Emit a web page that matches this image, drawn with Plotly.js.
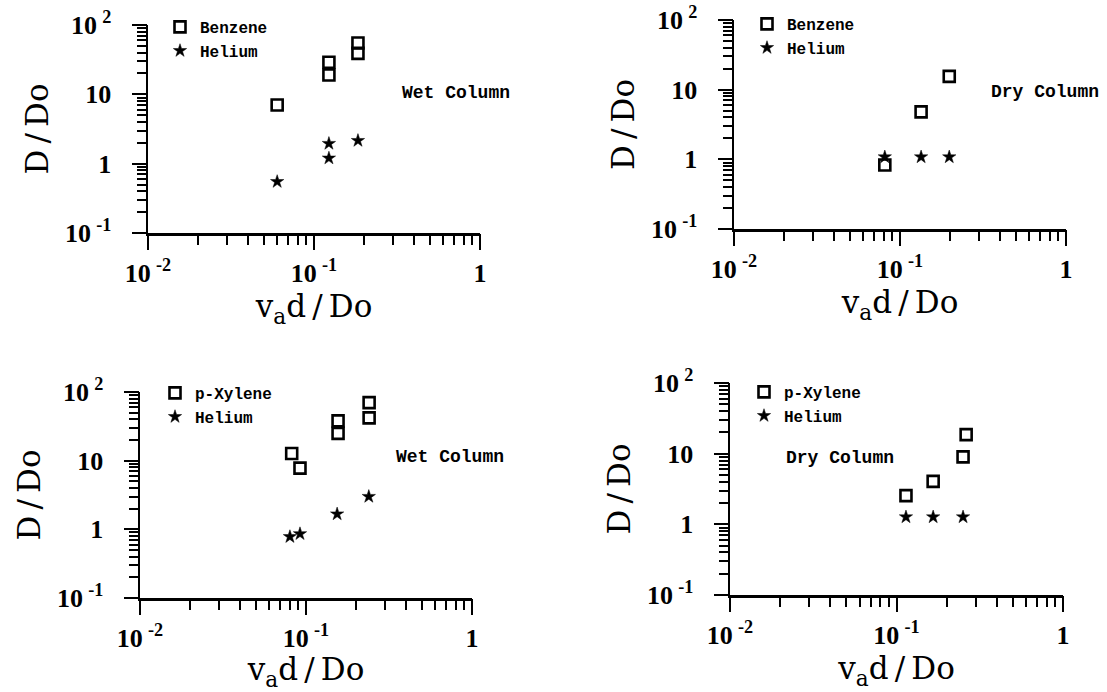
<!DOCTYPE html>
<html>
<head>
<meta charset="utf-8">
<script src="https://cdn.plot.ly/plotly-3.0.1.min.js"></script>
<style>
  html, body { margin: 0; padding: 0; background: #fff; }
  #chart { width: 1107px; height: 692px; }
</style>
</head>
<body>
<div id="chart"></div>
<script>
// Dispersion ratio D/Do against reduced velocity v_a d/Do, four columns.

// Wet column, benzene tracer
const wetBenzeneX = [0.060, 0.123, 0.123, 0.184, 0.184];
const wetBenzeneY = [7.0, 29, 19, 55, 39];
const wetHeliumAX = [0.060, 0.123, 0.123, 0.184];
const wetHeliumAY = [0.55, 1.95, 1.2, 2.15];

// Dry column, benzene tracer
const dryBenzeneX = [0.081, 0.134, 0.198];
const dryBenzeneY = [0.83, 4.8, 15.5];
const dryHeliumAX = [0.081, 0.134, 0.198];
const dryHeliumAY = [1.08, 1.08, 1.08];

// Wet column, p-xylene tracer
const wetXyleneX = [0.082, 0.092, 0.156, 0.156, 0.240, 0.240];
const wetXyleneY = [12.7, 7.8, 38, 25, 70, 42];
const wetHeliumBX = [0.080, 0.092, 0.154, 0.239];
const wetHeliumBY = [0.78, 0.86, 1.67, 3.0];

// Dry column, p-xylene tracer
const dryXyleneX = [0.114, 0.166, 0.251, 0.262];
const dryXyleneY = [2.55, 4.05, 9.0, 18.6];
const dryHeliumBX = [0.114, 0.166, 0.251];
const dryHeliumBY = [1.27, 1.27, 1.27];

// Axis ticks
const xTickVals = [0.01, 0.1, 1];
const xTickText = ['10\u2009<sup>-2</sup>', '10\u2009<sup>-1</sup>', '1'];
const yTickVals = [0.1, 1, 10, 100];
const yTickText = ['10\u2009<sup>-1</sup>', '1', '10', '10\u2009<sup>2</sup>'];

const columnLabels = ['Wet Column', 'Dry Column', 'Wet Column', 'Dry Column'];

const W = 1107, H = 692;
const px = v => v / W;
const py = v => 1 - v / H;

// 2..9 within each decade, for the short ticks
function minorTicks(lo, hi) {
  const out = [];
  for (let e = lo; e < hi; e++) {
    for (let k = 2; k <= 9; k++) out.push(k * Math.pow(10, e));
  }
  return out;
}

// every tick position on an axis, labelled only at the decades
function allTicks(majorVals, majorText, lo, hi) {
  const vals = majorVals.concat(minorTicks(lo, hi));
  const text = majorText.concat(minorTicks(lo, hi).map(() => ''));
  return { vals, text };
}

const tickFont = { family: 'Liberation Serif', size: 26, weight: 'bold', color: '#000' };
const titleFont = { family: 'DejaVu Serif', size: 31, color: '#000' };

function xAxis(left, right, anchor) {
  const t = allTicks(xTickVals, xTickText, -2, 0);
  return {
    type: 'log', range: [-2, 0], domain: [px(left), px(right)], anchor: anchor,
    showline: true, linewidth: 2.5, linecolor: '#000',
    ticks: 'outside', ticklen: 9, tickwidth: 2, tickcolor: '#000',
    tickmode: 'array', tickvals: t.vals, ticktext: t.text,
    tickfont: tickFont, ticklabelstandoff: 6,
    showgrid: false, zeroline: false, automargin: false,
    title: { text: 'v<sub>a</sub>d\u2009/\u2009Do', font: titleFont, standoff: 9 }
  };
}

function yAxis(top, bottom, anchor) {
  const t = allTicks(yTickVals, yTickText, -1, 2);
  return {
    type: 'log', range: [-1, 2], domain: [py(bottom), py(top)], anchor: anchor,
    showline: true, linewidth: 2.5, linecolor: '#000',
    ticks: 'outside', ticklen: 9, tickwidth: 2, tickcolor: '#000',
    tickmode: 'array', tickvals: t.vals, ticktext: t.text,
    tickfont: tickFont, ticklabelstandoff: 20,
    showgrid: false, zeroline: false, automargin: false,
    title: { text: 'D\u2009/\u2009Do', font: titleFont, standoff: 7 }
  };
}

// Overlaid axes carrying the longer decade ticks
function decadeX(base, anchor) {
  return {
    type: 'log', range: [-2, 0], anchor: anchor, overlaying: base, side: 'bottom',
    showline: false, ticks: 'outside', ticklen: 16, tickwidth: 2, tickcolor: '#000',
    tickmode: 'array', tickvals: xTickVals, showticklabels: false,
    showgrid: false, zeroline: false, automargin: false
  };
}
function decadeY(base, anchor) {
  return {
    type: 'log', range: [-1, 2], anchor: anchor, overlaying: base, side: 'left',
    showline: false, ticks: 'outside', ticklen: 15, tickwidth: 2, tickcolor: '#000',
    tickmode: 'array', tickvals: yTickVals, showticklabels: false,
    showgrid: false, zeroline: false, automargin: false
  };
}

const openSquare = { symbol: 'square-open', size: 11, color: '#000', line: { width: 2.6, color: '#000' } };
const star = { symbol: 'star', size: 10, color: '#000', line: { width: 0.5, color: '#000' } };

function pair(xa, ya, legend, nameA, ax, ay, bx, by) {
  return [
    { type: 'scatter', mode: 'markers', name: nameA, x: ax, y: ay,
      xaxis: xa, yaxis: ya, legend: legend, marker: openSquare, hoverinfo: 'x+y' },
    { type: 'scatter', mode: 'markers', name: 'Helium', x: bx, y: by,
      xaxis: xa, yaxis: ya, legend: legend, marker: star, hoverinfo: 'x+y' }
  ];
}

// transparent anchor trace so each decade-tick axis pair gets a subplot
function tickHolder(xa, ya, ys, xs) {
  return { type: 'scatter', mode: 'markers', x: xs, y: ys, xaxis: xa, yaxis: ya,
           marker: { opacity: 0, size: 1 }, showlegend: false, hoverinfo: 'skip' };
}

const data = [].concat(
  pair('x', 'y', 'legend', 'Benzene', wetBenzeneX, wetBenzeneY, wetHeliumAX, wetHeliumAY),
  pair('x2', 'y2', 'legend2', 'Benzene', dryBenzeneX, dryBenzeneY, dryHeliumAX, dryHeliumAY),
  pair('x3', 'y3', 'legend3', 'p-Xylene', wetXyleneX, wetXyleneY, wetHeliumBX, wetHeliumBY),
  pair('x4', 'y4', 'legend4', 'p-Xylene', dryXyleneX, dryXyleneY, dryHeliumBX, dryHeliumBY),
  [tickHolder('x5', 'y5', wetBenzeneY, wetBenzeneX),
   tickHolder('x6', 'y6', dryBenzeneY, dryBenzeneX),
   tickHolder('x7', 'y7', wetXyleneY, wetXyleneX),
   tickHolder('x8', 'y8', dryXyleneY, dryXyleneX)]
);

const legendFont = { family: 'Liberation Mono', size: 16, weight: 'bold', color: '#000' };
function legendAt(left, top) {
  return {
    x: px(left), y: py(top), xanchor: 'left', yanchor: 'top',
    bgcolor: 'rgba(0,0,0,0)', borderwidth: 0, font: legendFont,
    itemwidth: 30, tracegroupgap: 0, itemclick: false, itemdoubleclick: false
  };
}

const annFont = { family: 'Liberation Mono', size: 18, weight: 'bold', color: '#000' };
function label(text, cx, cy) {
  return { text: text, xref: 'paper', yref: 'paper', x: px(cx), y: py(cy),
           xanchor: 'center', yanchor: 'middle', showarrow: false, font: annFont };
}

// panel frames in pixels: [left, right, top, bottom]
const P1 = [148, 480, 25, 233];
const P2 = [734, 1066, 20, 229];
const P3 = [140, 472, 392, 598];
const P4 = [730, 1063, 383, 595];

const layout = {
  width: W, height: H,
  margin: { l: 0, r: 0, t: 0, b: 0 },
  paper_bgcolor: '#fff', plot_bgcolor: 'rgba(0,0,0,0)',
  showlegend: true,
  xaxis: xAxis(P1[0], P1[1], 'y'),  yaxis: yAxis(P1[2], P1[3], 'x'),
  xaxis2: xAxis(P2[0], P2[1], 'y2'), yaxis2: yAxis(P2[2], P2[3], 'x2'),
  xaxis3: xAxis(P3[0], P3[1], 'y3'), yaxis3: yAxis(P3[2], P3[3], 'x3'),
  xaxis4: xAxis(P4[0], P4[1], 'y4'), yaxis4: yAxis(P4[2], P4[3], 'x4'),
  xaxis5: decadeX('x', 'y5'), yaxis5: decadeY('y', 'x5'),
  xaxis6: decadeX('x2', 'y6'), yaxis6: decadeY('y2', 'x6'),
  xaxis7: decadeX('x3', 'y7'), yaxis7: decadeY('y3', 'x7'),
  xaxis8: decadeX('x4', 'y8'), yaxis8: decadeY('y4', 'x8'),
  legend: legendAt(160, 10),
  legend2: legendAt(747, 7),
  legend3: legendAt(155, 376),
  legend4: legendAt(744, 375),
  annotations: [
    label(columnLabels[0], 456, 93),
    label(columnLabels[1], 1045, 92),
    label(columnLabels[2], 450, 457),
    label(columnLabels[3], 840, 458)
  ]
};

Plotly.newPlot('chart', data, layout, { displayModeBar: false, staticPlot: true });
</script>
</body>
</html>
